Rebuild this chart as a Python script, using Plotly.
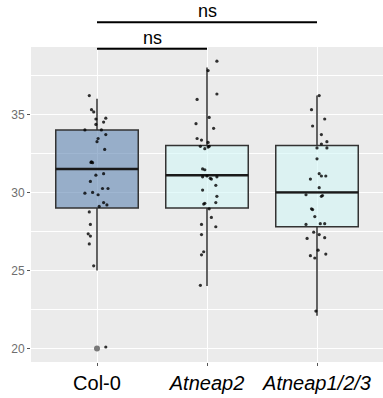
import plotly.graph_objects as go

# ---------------- data ----------------
categories = ["Col-0", "Atneap2", "Atneap1/2/3"]
tick_labels = ["Col-0", "<i>Atneap2</i>", "<i>Atneap1/2/3</i>"]

q1 = [29.0, 29.0, 27.8]
medians = [31.5, 31.1, 30.0]
q3 = [34.0, 33.0, 33.0]
lower_whisker = [25.0, 24.0, 22.1]
upper_whisker = [36.0, 38.0, 36.2]
outlier_group = [0]
outlier_values = [20.0]

col0_values = [36.2, 35.3, 35.15, 34.7, 34.75, 34.5, 34.35, 34.0, 34.0, 33.7, 33.45,
               33.25, 32.75, 31.95, 31.9, 31.92, 31.2, 31.1, 30.7, 30.25, 30.25, 29.95,
               30.0, 29.85, 29.35, 29.2, 29.1, 28.75, 27.95, 27.35, 27.2, 26.7, 25.3, 20.1]
col0_jitter = [-0.07, -0.05, -0.03, -0.01, 0.08, 0.06, -0.01, -0.11, 0.04, 0.08, 0.01,
               0.0, 0.07, -0.05, -0.04, -0.055, 0.06, -0.01, -0.06, 0.05, 0.10, -0.11,
               -0.04, 0.01, 0.06, 0.09, 0.02, -0.07, -0.06, -0.08, -0.06, -0.07, -0.03, 0.08]

atneap2_values = [38.4, 37.8, 36.3, 35.95, 34.8, 34.4, 34.1, 33.45, 33.35, 33.2, 32.95,
                  32.8, 32.9, 32.95, 31.5, 31.45, 31.0, 31.05, 30.9, 30.85, 31.0, 30.45,
                  30.15, 29.75, 29.35, 29.25, 29.3, 28.95, 28.4, 27.95, 27.8, 27.3, 26.2,
                  26.0, 24.05]
atneap2_jitter = [0.09, 0.01, 0.09, -0.09, 0.02, -0.10, 0.06, -0.09, -0.05, 0.01, -0.06,
                  -0.02, 0.01, 0.02, -0.04, -0.02, -0.04, 0.0, 0.03, 0.04, 0.09, 0.08,
                  -0.04, 0.09, 0.08, -0.03, -0.02, 0.02, 0.04, -0.05, 0.08, -0.05, -0.03,
                  -0.05, -0.06]

atneap123_values = [36.2, 35.3, 34.7, 34.25, 33.7, 33.25, 33.1, 32.85, 32.85, 32.15, 31.2,
                    31.05, 31.05, 30.85, 30.3, 29.85, 29.75, 29.8, 28.95, 28.9, 28.45,
                    27.95, 28.0, 28.0, 27.45, 27.3, 27.05, 27.1, 26.3, 25.95, 25.8, 26.05,
                    22.4]
atneap123_jitter = [0.02, -0.05, 0.07, -0.04, 0.04, 0.09, 0.04, 0.0, 0.09, 0.0, 0.02,
                    0.04, 0.08, -0.06, 0.02, -0.10, 0.04, 0.05, -0.05, -0.04, -0.02,
                    -0.10, 0.03, 0.07, -0.03, 0.02, -0.09, 0.07, 0.01, -0.06, -0.02, 0.08,
                    -0.01]

comparisons = [(0, 1), (0, 2)]
comparison_labels = ["ns", "ns"]
comparison_levels = [0.9946, 1.0785]   # bracket heights (paper units)

y_ticks = [20, 25, 30, 35]
y_minor = [22.5, 27.5, 32.5, 37.5]

# ---------------- styling ----------------
fills = ["rgba(100,137,180,0.62)", "rgba(210,247,247,0.6)", "rgba(210,247,247,0.6)"]
box_width = 0.75
x_range = [-0.6, 2.6]
y_range = [19.14, 39.31]

fig = go.Figure()

for i, cat in enumerate(categories):
    fig.add_trace(go.Box(
        x=[i], q1=[q1[i]], median=[medians[i]], q3=[q3[i]],
        lowerfence=[lower_whisker[i]], upperfence=[upper_whisker[i]],
        width=box_width, whiskerwidth=0, fillcolor=fills[i],
        line=dict(color="#333333", width=1.5), boxpoints=False,
        showlegend=False, hoverinfo="skip"))
    # thicker median line
    fig.add_trace(go.Scatter(
        x=[i - box_width / 2, i + box_width / 2], y=[medians[i], medians[i]],
        mode="lines", line=dict(color="#1a1a1a", width=2.4),
        showlegend=False, hoverinfo="skip"))

# outliers
fig.add_trace(go.Scatter(
    x=outlier_group, y=outlier_values, mode="markers",
    marker=dict(size=6, color="rgba(100,100,100,0.85)"),
    showlegend=False, hoverinfo="skip", cliponaxis=False))

# jittered points
for i, (vals, jit) in enumerate([(col0_values, col0_jitter),
                                   (atneap2_values, atneap2_jitter),
                                   (atneap123_values, atneap123_jitter)]):
    fig.add_trace(go.Scatter(
        x=[i + j for j in jit], y=vals, mode="markers",
        marker=dict(size=3.2, color="rgba(0,0,0,0.8)"),
        showlegend=False, hoverinfo="skip"))

# significance brackets
def to_paper_x(v):
    return (v - x_range[0]) / (x_range[1] - x_range[0])

for (a, b), lab, lev in zip(comparisons, comparison_labels, comparison_levels):
    fig.add_shape(type="line", xref="paper", yref="paper",
                  x0=to_paper_x(a), x1=to_paper_x(b), y0=lev, y1=lev,
                  line=dict(color="black", width=2))
    fig.add_annotation(x=to_paper_x((a + b) / 2), y=lev, xref="paper", yref="paper",
                       text=lab, showarrow=False, yanchor="bottom", yshift=-1,
                       font=dict(size=18, color="black", family="Liberation Sans, Arial"))

fig.update_layout(
    width=383, height=398,
    margin=dict(l=31, r=0, t=47, b=36),
    paper_bgcolor="white", plot_bgcolor="#EBEBEB",
    font=dict(family="Liberation Sans, Arial"),
    xaxis=dict(range=x_range, tickvals=[0, 1, 2], ticktext=tick_labels,
               showgrid=True, gridcolor="white", gridwidth=1.2, zeroline=False,
               ticks="outside", ticklen=3, tickcolor="#555", tickwidth=1,
               tickfont=dict(size=20, color="black"), showline=False),
    yaxis=dict(range=y_range, tickvals=y_ticks, showgrid=True, gridcolor="white",
               gridwidth=1.4, zeroline=False, ticks="outside", ticklen=3,
               tickcolor="#555", tickwidth=1,
               tickfont=dict(size=12, color="#6e6e6e"), showline=False,
               minor=dict(tickvals=y_minor, showgrid=True, gridcolor="white",
                          gridwidth=0.7, ticks="")),
)

fig.write_html("out.html")
